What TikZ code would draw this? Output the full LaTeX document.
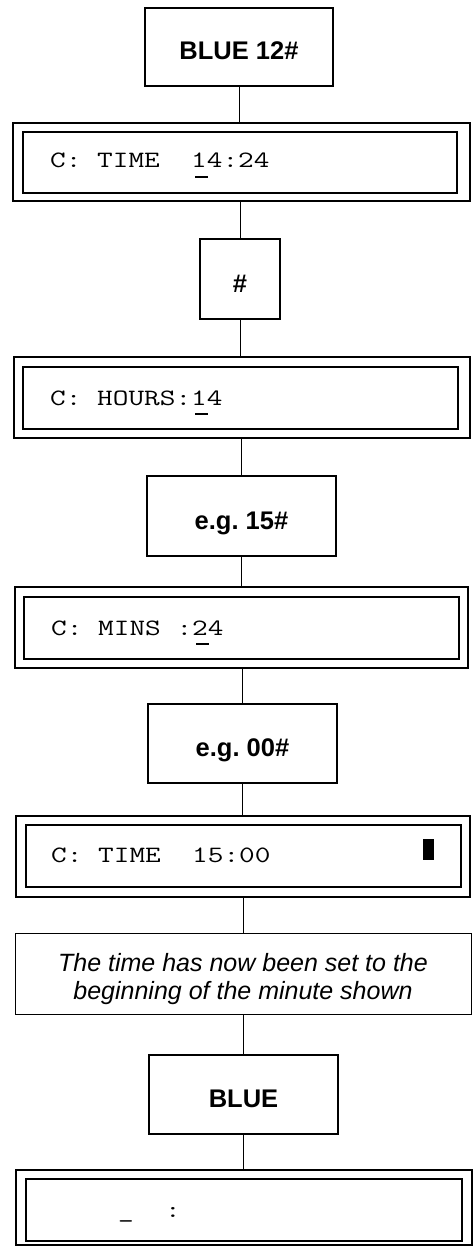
\documentclass[tikz,border=0pt]{standalone}
\usepackage{fontspec}
\setmainfont{Liberation Sans}
\usepackage{graphicx}
\frenchspacing
\tikzset{
 keybox/.style={draw, line width=2pt, inner sep=0pt, font=\fontsize{25.5}{28}\selectfont\bfseries, text height=26pt, text depth=0pt},
 dispout/.style={draw, line width=1.2pt, inner sep=0pt},
 dispin/.style={draw, line width=1.2pt, inner sep=0pt},
 note/.style={draw, line width=0.9pt, inner sep=0pt},
 notetext/.style={inner sep=0pt, font=\fontsize{25}{27.5}\selectfont\itshape, align=center},
 conn/.style={line width=0.9pt},
 lcd/.style={anchor=base west, inner sep=0pt, font=\fontsize{23.4}{24}\selectfont\ttfamily},
 uline/.style={line width=1.6pt},
}
\newcommand{\lcdtext}[1]{\scalebox{1.3}[1]{#1}}
\begin{document}
\begin{tikzpicture}[x=1pt,y=-1pt]
\useasboundingbox (0,0) rectangle (473,1246);
% keys
\node[keybox, minimum width=188pt, minimum height=78pt] (k1) at (239,47) {BLUE 12\#};
\node[keybox, minimum width=80pt, minimum height=80pt] (k2) at (240,279) {\#};
\node[keybox, minimum width=189pt, minimum height=80pt] (k3) at (241.5,516) {e.g. 15\#};
\node[keybox, minimum width=189pt, minimum height=79pt] (k4) at (242.5,743.5) {e.g. 00\#};
\node[keybox, minimum width=189pt, minimum height=79pt] (k5) at (243.5,1094.5) {BLUE};
% displays
\node[dispout, minimum width=457pt, minimum height=78pt] (d1) at (241.5,162) {};
\node[dispin, minimum width=434pt, minimum height=61pt] (d1i) at (240,162.5) {};
\node[lcd] (t1) at (50,168) {\lcdtext{C: TIME\ \ 14:24}};
\draw[uline] (195,177) -- (208,177);

\node[dispout, minimum width=456pt, minimum height=81pt] (d2) at (242,397.5) {};
\node[dispin, minimum width=435pt, minimum height=62pt] (d2i) at (240.5,398) {};
\node[lcd] (t2) at (50,405) {\lcdtext{C: HOURS:14}};
\draw[uline] (195,414) -- (208,414);

\node[dispout, minimum width=453pt, minimum height=81pt] (d3) at (241.5,627.5) {};
\node[dispin, minimum width=435pt, minimum height=62pt] (d3i) at (241.5,628) {};
\node[lcd] (t3) at (51,635) {\lcdtext{C: MINS :24}};
\draw[uline] (196,644) -- (209,644);

\node[dispout, minimum width=454pt, minimum height=81pt] (d4) at (243,856.5) {};
\node[dispin, minimum width=435pt, minimum height=62pt] (d4i) at (243.5,856) {};
\node[lcd] (t4) at (51,862) {\lcdtext{C: TIME\ \ 15:00}};
\fill (423,839) rectangle (434,860);

\node[dispout, minimum width=456pt, minimum height=75pt] (d5) at (244,1207.5) {};
\node[dispin, minimum width=436pt, minimum height=62pt] (d5i) at (244,1210) {};
\node[lcd] (t5) at (118,1217) {\lcdtext{\_\ \ :}};
% note
\node[note, minimum width=456pt, minimum height=81pt] (nt) at (243,973.5) {};
\node[notetext] (ntx) at (243,979) {The time has now been set to the\\beginning of the minute shown};
% connectors
\draw[conn] (k1.south) -- (k1.south |- d1.north);
\draw[conn] (k2.north |- d1.south) -- (k2.north);
\draw[conn] (k2.south) -- (k2.south |- d2.north);
\draw[conn] (k3.north |- d2.south) -- (k3.north);
\draw[conn] (k3.south) -- (k3.south |- d3.north);
\draw[conn] (k4.north |- d3.south) -- (k4.north);
\draw[conn] (k4.south) -- (k4.south |- d4.north);
\draw[conn] (nt.north |- d4.south) -- (nt.north);
\draw[conn] (k5.north |- nt.south) -- (k5.north);
\draw[conn] (k5.south) -- (k5.south |- d5.north);
\end{tikzpicture}
\end{document}
